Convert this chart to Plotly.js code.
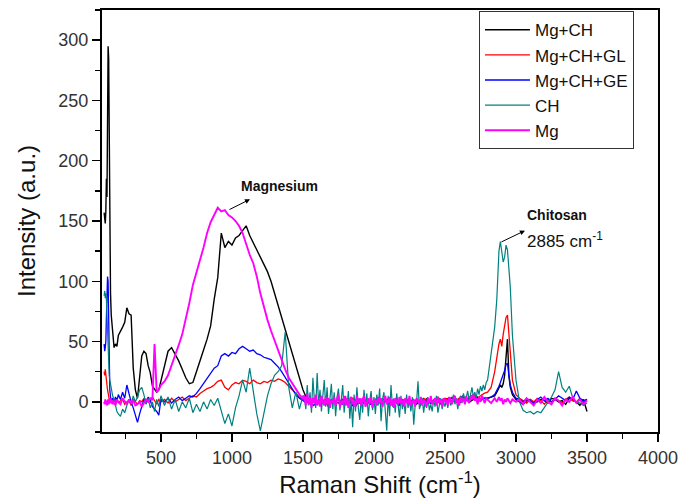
<!DOCTYPE html>
<html>
<head>
<meta charset="utf-8">
<script src="https://cdn.plot.ly/plotly-3.0.1.min.js"></script>
<style>html,body{margin:0;padding:0;background:#fff;}#chart{width:696px;height:504px;}</style>
</head>
<body>
<div id="chart"></div>
<script>
// Raman shift grid (cm-1), in segments
const xS1 = [100,104,108,112,116,120,124,128,132,136,140,145,150,160,170,180,190,200,215,230,245,260,275,290,305,320,335,350,365,380,395,410,425,440,455,470,485,500];
const xS2 = [525,550,575,600,625,650,675,700,725,750,775,800,825,850,875,900,925,950,975,1000,1025,1050,1075,1100,1125,1150,1175,1200,1225,1250,1275,1300,1325,1350,1375,1400,1425,1450,1475,1500];
const xS3 = [1525,1550,1575,1600,1625,1650,1675,1700,1725,1750,1775,1800,1825,1850,1875,1900,1925,1950,1975,2000,2025,2050,2075,2100,2125,2150,2175,2200,2225,2250,2275,2300,2325,2350,2375,2400,2425,2450,2475,2500,2525,2550,2575,2600,2625,2650,2675,2700,2725,2750,2775];
// finer grid of the baseline for the two noisiest spectra (CH, Mg)
const xS3f = [1510,1520,1530,1540,1550,1560,1570,1580,1590,1600,
  1610,1620,1630,1640,1650,1660,1670,1680,1690,1700,
  1710,1720,1730,1740,1750,1760,1770,1780,1790,1800,
  1810,1820,1830,1840,1850,1860,1870,1880,1890,1900,
  1910,1920,1930,1940,1950,1960,1970,1980,1990,2000,
  2010,2020,2030,2040,2050,2060,2070,2080,2090,2100,
  2110,2120,2130,2140,2150,2160,2170,2180,2190,2200,
  2210,2220,2230,2240,2250,2260,2270,2280,2290,2300,
  2310,2320,2330,2340,2350,2360,2370,2380,2390,2400,
  2410,2420,2430,2440,2450,2460,2470,2480,2490,2500,
  2510,2520,2530,2540,2550,2560,2570,2580,2590,2600,
  2610,2620,2630,2640,2650,2660,2670,2680,2690,2700,
  2710,2720,2730,2740,2750,2760,2770,2780,2790];
const xS4 = [2800,2825,2850,2865,2880,2890,2900,2910,2920,2930,2940,2950,2960,2975,3000];
const xS5 = [3025,3050,3075,3100,3125,3150,3175,3200,3225,3250,3275,3300,3325,3350,3375,3400,3425,3450,3475,3500];

// Mg+CH
const mgchS1 = [157,150,148,158,185,170,240,295,285,200, 130,90,72,58,45,48,46,55,58,62, 66,78,73,72,28,10,3,20,38,42, 40,30,24,13,10,8,10,18];
const mgchS2 = [29,42,45,40,34,27,20,15,16,25, 35,43,52,63,85,103,140,128,133,130, 136,138,142,146,138,132,126,121,114,108, 100,90,82,70,60,50,40,32,20,10];
const mgchS3 = [3,-1,2,0,-2,1,-3,2,0,-1, 2,-2,1,0,-3,2,-1,1,-2,0, 2,-1,3,-2,0,1,-3,2,0,-1, 2,-2,1,0,3,-1,2,0,-2,1, 3,0,2,-1,1,3,0,2,4,1, 3];
const mgchS4 = [3,4,5,8,12,14,12,15,22,40,52,22,12,6,2];
const mgchS5 = [0,-2,1,2,-1,0,2,1,-1,3,2,0,1,-2,3,1,0,-3,2,-8];

// Mg+CH+GL
const glS1 = [25,22,27,20,18,14,10,6,3,2, 0,2,-1,1,-2,0,3,-1,1,2, -2,0,1,-3,2,0,-2,1,0,3, -1,2,0,4,1,-2,2,0];
const glS2 = [2,-1,3,0,2,4,1,3,5,4, 7,9,11,12,14,17,18,12,10,14, 16,15,18,17,15,18,16,15,17,16, 18,17,19,18,16,13,10,7,4,2];
const glS3 = [1,-2,3,0,-1,2,-3,1,0,2, -1,1,-2,3,0,-1,2,-2,1,0, 2,-1,0,3,-2,1,0,-1,2,1, -1,2,0,3,1,-1,2,4,1,3, 2,4,1,3,5,2,4,6,3,5, 7];
const glS4 = [8,12,25,37,48,52,46,56,63,70,72,58,42,18,6];
const glS5 = [3,1,-1,2,0,3,1,-2,2,0,3,1,-1,2,4,1,0,3,-1,2];

// Mg+CH+GE
const geS1 = [48,42,45,50,70,90,104,100,55,25, 10,4,1,3,0,4,1,6,2,8, 3,14,6,0,-5,-12,-17,-10,-3,2, -1,4,1,-4,-6,-8,-11,2];
const geS2 = [0,3,-1,2,4,1,3,5,4,7, 11,15,19,24,28,30,38,40,38,41, 40,44,46,44,42,43,40,39,37,36, 35,32,29,25,20,15,10,6,3,1];
const geS3 = [-1,1,-3,0,2,-2,1,-1,0,3, -2,0,1,-3,2,-1,0,1,-2,0, 1,-2,0,2,-1,1,-3,0,2,-1, 0,1,-2,2,0,-1,1,3,0,2, 1,3,0,2,4,1,3,2,4,2, 3];
const geS4 = [3,4,6,9,13,16,19,22,26,31,32,22,14,8,3];
const geS5 = [2,0,3,1,-1,2,4,1,3,0,2,5,3,1,4,2,9,3,1,2];

// CH
const chS1 = [88,92,86,90,85,70,50,35,25,22, 18,15,10,5,2,-4,-8,-10,-12,-6, -9,-3,2,-2,5,0,4,10,12,6, -2,3,-5,0,-8,2,-4,5];
const chS2 = [-3,4,-6,2,-8,0,-5,3,-9,-2, -8,0,-6,2,-3,3,-8,-18,-10,-20, -5,5,18,8,28,10,-10,-24,-8,5, 15,22,25,30,58,12,-5,8,-6,5];
const chS3f = [5,-6,14,-3,8,-9,20,2,-5,24,
  -2,10,-8,6,18,-4,12,-10,3,15,
  -6,8,-12,4,11,-7,2,14,-9,5,
  -3,9,-14,2,-21,6,-8,12,-5,-15,
  3,-9,10,-4,7,-12,1,9,-7,4,
  -10,6,-3,11,-16,2,8,-6,-24,5,
  -12,14,-4,3,-9,7,-2,-13,5,-6,
  2,-10,6,-5,1,-8,4,-19,-3,0,
  17,-6,-2,3,-9,1,-5,4,-7,-2,
  -8,2,-4,5,-9,-1,3,-6,0,-4,
  2,-5,4,-3,0,6,-2,3,-6,2,
  5,-1,7,2,4,9,1,6,12,4,
  8,3,11,6,13,9,14,10,16];
const chS4 = [18,38,62,85,125,133,122,116,120,130,126,112,95,55,18];
const chS5 = [0,-7,-9,-8,-10,-8,-9,-5,-1,4,10,25,12,8,13,3,0,-1,-3,-1];

// Mg
const mgS1 = [0,-2,2,-1,1,-3,0,2,-2,1, 3,-1,2,-2,1,-3,2,0,-2,3, 0,-2,2,-1,1,-3,-2,0,-4,-1, 2,0,3,2,48,8,10,14];
const mgS2 = [17,22,30,38,47,56,68,82,97,107, 118,128,140,149,155,161,158,159,155,153, 150,146,140,130,122,115,104,90,78,68, 59,51,42,35,27,20,15,10,6,3];
const mgS3f = [5,-3,7,-2,4,-5,3,-1,6,-3,
  2,-4,5,0,-3,4,-2,3,-5,2,
  -1,4,-3,2,6,-4,1,-2,5,-3,
  3,-5,2,4,-2,1,-4,5,-1,3,
  -3,2,5,-4,0,3,-2,4,-5,1,
  2,-3,4,-1,3,-4,1,5,-2,0,
  4,-3,2,-5,3,0,-2,4,-1,2,
  -4,3,1,-2,5,-3,0,2,-4,3,
  1,-2,4,-3,2,0,-4,3,-1,5,
  -2,1,3,-3,4,-1,2,-4,3,0,
  2,-3,4,1,-2,3,5,-1,2,-3,
  4,0,3,-2,5,1,-1,4,2,6,
  1,3,-2,4,0,5,2,-1,3];
const mgS4 = [2,-1,3,0,4,1,3,-2,2,0,3,1,-1,2,0];
const mgS5 = [2,-2,3,0,-3,2,-1,4,0,-2,3,1,-3,2,0,4,-1,2,-2,1];

const seriesNames = ['Mg+CH', 'Mg+CH+GL', 'Mg+CH+GE', 'CH', 'Mg'];
const xTickVals = [500,1000,1500,2000,2500,3000,3500,4000];
const yTickVals = [0,50,100,150,200,250,300];

const xCoarse = xS1.concat(xS2, xS3, xS4, xS5);
const xFine = xS1.concat(xS2, xS3f, xS4, xS5);
const xSets = [xCoarse, xCoarse, xCoarse, xFine, xFine];
const ySets = [
  mgchS1.concat(mgchS2, mgchS3, mgchS4, mgchS5),
  glS1.concat(glS2, glS3, glS4, glS5),
  geS1.concat(geS2, geS3, geS4, geS5),
  chS1.concat(chS2, chS3f, chS4, chS5),
  mgS1.concat(mgS2, mgS3f, mgS4, mgS5)
];
const colors = ['#000000', '#ff0000', '#0000ff', '#008080', '#ff00ff'];
const widths = [1.4, 1.3, 1.3, 1.2, 1.9];

const traces = seriesNames.map((n, i) => ({
  type: 'scatter', mode: 'lines', name: n, x: xSets[i], y: ySets[i],
  line: {color: colors[i], width: widths[i]}
}));

const F = 'Liberation Sans, Arial, sans-serif';
const axisCommon = {
  showline: true, linecolor: '#000', linewidth: 2, mirror: true,
  ticks: 'outside', ticklen: 8, tickwidth: 1.5, tickcolor: '#000',
  showgrid: false, zeroline: false,
  tickfont: {family: F, size: 18, color: '#333'}
};

const layout = {
  width: 696, height: 504,
  margin: {l: 102, r: 38, t: 10, b: 72},
  paper_bgcolor: '#fff', plot_bgcolor: '#fff',
  showlegend: true,
  xaxis: Object.assign({}, axisCommon, {
    range: [85, 4000], tickvals: xTickVals, ticktext: xTickVals.map(String),
    minor: {dtick: 250, tick0: 0, ticks: 'outside', ticklen: 5, tickwidth: 1.5, tickcolor: '#000'},
    title: {text: 'Raman Shift (cm<sup>-1</sup>)', font: {family: F, size: 24, color: '#111'}, standoff: 10}
  }),
  yaxis: Object.assign({}, axisCommon, {
    range: [-25, 325], tickvals: yTickVals, ticktext: yTickVals.map(String),
    minor: {dtick: 25, tick0: 0, ticks: 'outside', ticklen: 5, tickwidth: 1.5, tickcolor: '#000'},
    title: {text: 'Intensity (a.u.)', font: {family: F, size: 24, color: '#111'}, standoff: 16}
  }),
  legend: {
    x: 0.678, y: 0.997, xanchor: 'left', yanchor: 'top',
    bgcolor: '#fff', bordercolor: '#333', borderwidth: 1,
    font: {family: F, size: 17, color: '#111'},
    itemwidth: 45, tracegroupgap: 0
  },
  annotations: [
    {x: 1338, y: 179, xref: 'x', yref: 'y', text: '<b>Magnesium</b>', showarrow: false,
     font: {family: F, size: 14, color: '#111'}},
    {x: 1127, y: 168, xref: 'x', yref: 'y', ax: -22, ay: 11, text: '', showarrow: true,
     arrowhead: 2, arrowsize: 1, arrowwidth: 1, arrowcolor: '#000', standoff: 0},
    {x: 3288, y: 155, xref: 'x', yref: 'y', text: '<b>Chitosan</b>', showarrow: false,
     font: {family: F, size: 14, color: '#111'}},
    {x: 3345, y: 134, xref: 'x', yref: 'y', text: '2885 cm<sup>-1</sup>', showarrow: false,
     font: {family: F, size: 17, color: '#111'}},
    {x: 3063, y: 142, xref: 'x', yref: 'y', ax: -25, ay: 12, text: '', showarrow: true,
     arrowhead: 2, arrowsize: 1, arrowwidth: 1, arrowcolor: '#000', standoff: 0}
  ]
};

Plotly.newPlot('chart', traces, layout, {displayModeBar: false, staticPlot: true});
</script>
</body>
</html>
